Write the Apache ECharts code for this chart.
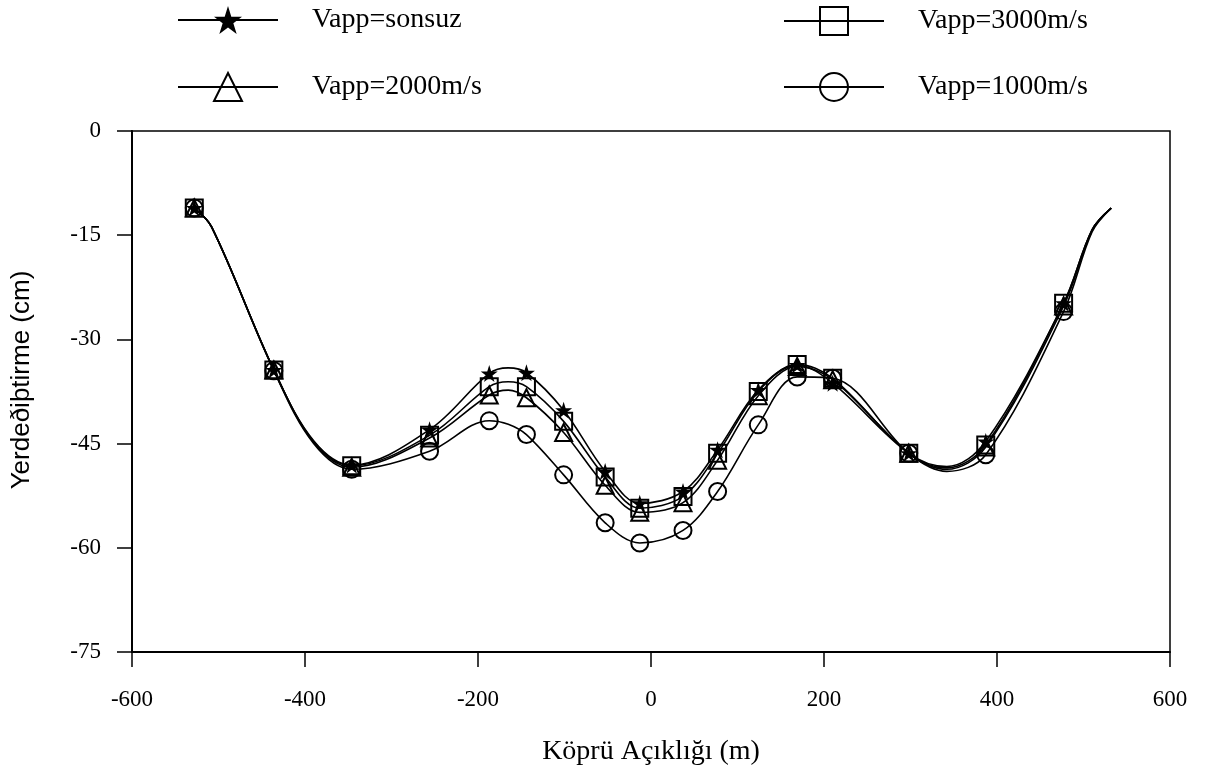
<!DOCTYPE html>
<html>
<head>
<meta charset="utf-8">
<script src="https://cdn.jsdelivr.net/npm/echarts@6/dist/echarts.min.js"></script>
<style>
html,body{margin:0;padding:0;background:#fff;}
#chart{width:1206px;height:772px;}
</style>
</head>
<body>
<div id="chart"></div>
<script>
// Positions along the bridge span (m)
const spanX = [-528, -508, -436, -390, -346, -256, -187, -165, -144, -101, -53, -13, 37, 77, 124, 169, 210, 298, 342, 387, 477, 510, 532];
// Points of the curves that carry no marker in the reference
const unmarkedX = [-508, -390, -165, 342, 510, 532];

const seriesNames = ['Vapp=sonsuz', 'Vapp=3000m/s', 'Vapp=2000m/s', 'Vapp=1000m/s'];
// Displacement (cm)
const vSonsuz = [-11.1, -13.8, -34.4, -44.6, -48.1, -43.0, -34.9, -34.1, -34.8, -40.2, -49.0, -53.6, -51.9, -45.9, -37.3, -33.7, -36.3, -46.4, -48.3, -44.7, -24.8, -14.2, -11.1];
const v3000 = [-11.1, -13.8, -34.4, -44.7, -48.2, -43.8, -36.8, -36.1, -36.8, -41.8, -49.8, -54.3, -52.6, -46.4, -37.5, -33.6, -35.6, -46.4, -48.5, -45.2, -24.8, -14.2, -11.1];
const v2000 = [-11.1, -13.8, -34.4, -44.8, -48.4, -44.2, -38.0, -37.3, -38.4, -43.4, -51.0, -54.9, -53.5, -47.4, -38.1, -33.9, -35.8, -46.4, -48.7, -45.5, -25.2, -14.3, -11.1];
const v1000 = [-11.1, -13.8, -34.5, -45.0, -48.7, -46.1, -41.7, -42.2, -43.7, -49.5, -56.4, -59.3, -57.5, -51.9, -42.3, -35.4, -35.6, -46.4, -49.0, -46.6, -26.0, -14.5, -11.1];

const xTicks = { min: -600, max: 600, interval: 200 };
const yTicks = { min: -75, max: 0, interval: 15 };

const STAR = 'path://M50,0 L61.8,35.4 L100,35.4 L69.1,57.3 L80.9,92.7 L50,70.8 L19.1,92.7 L30.9,57.3 L0,35.4 L38.2,35.4 Z';

function build(vals) {
  return spanX.map((x, i) => {
    const item = { value: [x, vals[i]] };
    if (unmarkedX.indexOf(x) >= 0) item.symbol = 'none';
    return item;
  });
}

const serif = 'Liberation Serif, Times New Roman, serif';

function mkSeries(name, vals, symbol, size, filled) {
  return {
    name: name,
    type: 'line',
    data: build(vals),
    smooth: 0.35,
    symbol: symbol,
    symbolSize: size,
    showAllSymbol: true,
    lineStyle: { color: '#000', width: 1.6 },
    itemStyle: filled
      ? { color: '#000', borderColor: '#000', borderWidth: 0 }
      : { color: 'rgba(255,255,255,0)', borderColor: '#000', borderWidth: 2 },
    emphasis: { disabled: true },
    z: 3
  };
}

function mkLegend(name, left, top) {
  return {
    data: [name],
    left: left,
    top: top,
    padding: 0,
    itemWidth: 100,
    itemHeight: 35,
    textStyle: { fontFamily: serif, fontSize: 28, color: '#000', padding: [0, 0, 0, 29] },
    selectedMode: false
  };
}

const chart = echarts.init(document.getElementById('chart'), null, { renderer: 'canvas' });
chart.setOption({
  backgroundColor: '#fff',
  animation: false,
  legend: [
    mkLegend(seriesNames[0], 177, 6),
    mkLegend(seriesNames[1], 783, 6),
    mkLegend(seriesNames[2], 177, 72),
    mkLegend(seriesNames[3], 783, 72)
  ],
  grid: {
    left: 132, right: 36, top: 131, bottom: 120,
    outerBoundsMode: 'none',
    containLabel: false,
    show: true, borderColor: '#000', borderWidth: 1.5, backgroundColor: 'transparent'
  },
  graphic: [{
    type: 'text',
    x: 22,
    y: 380,
    rotation: Math.PI / 2,
    style: {
      text: 'Yerdeðiþtirme (cm)',
      font: '26px "Liberation Sans", Arial, sans-serif',
      fill: '#000',
      textAlign: 'center',
      textVerticalAlign: 'middle'
    }
  }],
  xAxis: {
    type: 'value',
    min: xTicks.min, max: xTicks.max, interval: xTicks.interval,
    name: 'Köprü Açıklığı (m)',
    nameLocation: 'middle',
    nameGap: 86,
    nameTextStyle: { fontFamily: serif, fontSize: 28, color: '#000' },
    axisLine: { onZero: false, lineStyle: { color: '#000', width: 2 } },
    axisTick: { inside: false, length: 15, lineStyle: { color: '#000', width: 1.5 } },
    axisLabel: { margin: 36, fontFamily: serif, fontSize: 23, color: '#000' },
    splitLine: { show: false }
  },
  yAxis: {
    type: 'value',
    min: yTicks.min, max: yTicks.max, interval: yTicks.interval,
    axisLine: { onZero: false, lineStyle: { color: '#000', width: 2 } },
    axisTick: { inside: false, length: 15, lineStyle: { color: '#000', width: 1.5 } },
    axisLabel: { margin: 31, fontFamily: serif, fontSize: 23, color: '#000' },
    splitLine: { show: false }
  },
  series: [
    mkSeries(seriesNames[0], vSonsuz, STAR, 17, true),
    mkSeries(seriesNames[1], v3000, 'rect', 17, false),
    mkSeries(seriesNames[2], v2000, 'triangle', 17, false),
    mkSeries(seriesNames[3], v1000, 'circle', 17, false)
  ]
});
</script>
</body>
</html>
